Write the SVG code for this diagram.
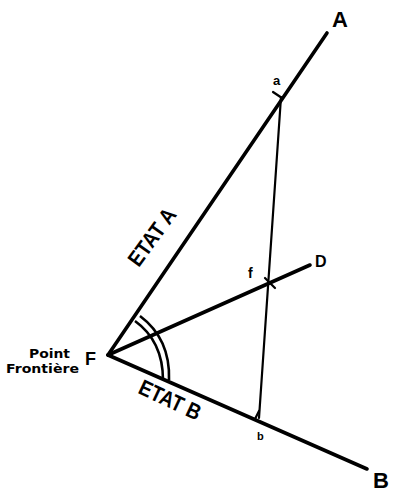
<svg xmlns="http://www.w3.org/2000/svg" width="394" height="493" viewBox="0 0 394 493">
<style>
.bg{fill:#fff}
.thick{stroke:#000;stroke-width:3.6;stroke-linecap:round;fill:none}
.thin{stroke:#000;stroke-width:2.2;stroke-linecap:round;fill:none}
.arc{stroke:#000;stroke-width:2.6;fill:none}
.lbl{font-family:"Liberation Sans",Arial,sans-serif;font-weight:bold;fill:#000}
.small{font-family:"DejaVu Sans","Liberation Sans",sans-serif;font-weight:bold;fill:#000}
</style>
<rect class="bg" width="394" height="493"/>
<g id="connectors">
<line class="thick" x1="108" y1="355" x2="327" y2="33"/>
<line class="thick" x1="108" y1="355" x2="310" y2="265"/>
<line class="thick" x1="108" y1="355" x2="367" y2="469"/>
<line class="thin" x1="281" y1="97" x2="259" y2="418"/>
<line class="thin" x1="273" y1="92" x2="282" y2="98"/>
<path class="thin" d="M259,411 L255,419"/>
<line class="thin" x1="265" y1="278" x2="275" y2="288"/>
<path class="arc" d="M140,316 C160,331 170,352 169,380"/>
<path class="arc" d="M135,321 C153,334 163,353 163,380"/>
</g>
<g id="node-A"><text class="lbl" x="332" y="27" font-size="22">A</text></g>
<g id="node-B"><text class="lbl" x="373" y="488" font-size="22">B</text></g>
<g id="node-D"><text class="lbl" x="315" y="267" font-size="16">D</text></g>
<g id="node-F"><text class="lbl" x="85" y="365" font-size="18">F</text></g>
<g id="point-a"><text class="lbl" x="273" y="84.5" font-size="13">a</text></g>
<g id="point-f"><text class="lbl" x="248" y="278" font-size="14">f</text></g>
<g id="point-b"><text class="lbl" x="257" y="440" font-size="11">b</text></g>
<g id="label-point">
<text class="small" x="29" y="358" font-size="13" textLength="41" lengthAdjust="spacingAndGlyphs">Point</text>
<text class="small" x="6" y="373" font-size="13" textLength="73" lengthAdjust="spacingAndGlyphs">Frontière</text>
</g>
<g id="label-etat-a" transform="translate(152,237) rotate(-54)">
<text class="lbl" x="0" y="7.5" font-size="22" text-anchor="middle" textLength="66" lengthAdjust="spacingAndGlyphs">ETAT A</text>
</g>
<g id="label-etat-b" transform="translate(170,400) rotate(25)">
<text class="lbl" x="0" y="7.5" font-size="22" text-anchor="middle" textLength="66" lengthAdjust="spacingAndGlyphs">ETAT B</text>
</g>
</svg>
